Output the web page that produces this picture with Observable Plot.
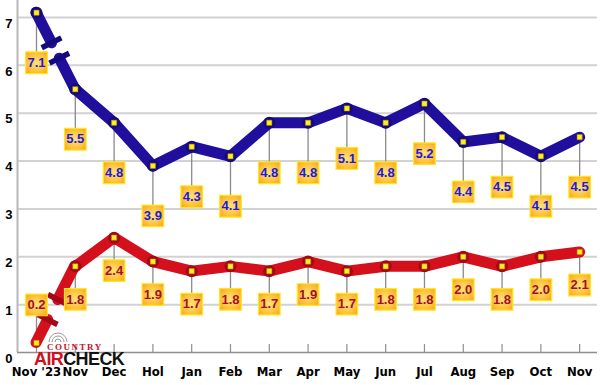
<!DOCTYPE html>
<html>
<head>
<meta charset="utf-8">
<script src="https://cdn.jsdelivr.net/npm/d3@7"></script>
<script src="https://cdn.jsdelivr.net/npm/@observablehq/plot@0.6"></script>
<style>
  html, body { margin: 0; padding: 0; background: #fff; }
  #wrap { position: relative; width: 600px; height: 385px; overflow: hidden; }
  #logo { position: absolute; left: 33px; top: 332px; width: 100px; height: 40px; pointer-events: none; }
  #logo .country { position: absolute; left: 14px; top: 9.5px; line-height: 1; white-space: nowrap; font: bold 9px "Liberation Serif", "DejaVu Serif", serif; color: #c8102e; letter-spacing: 1.5px; }
  #logo .air { position: absolute; left: 1px; top: 16.5px; line-height: 1; white-space: nowrap; font: bold 18px "Liberation Sans", Arial, sans-serif; letter-spacing: -0.6px; color: #111; }
  #logo .air span { color: #d01020; }
</style>
</head>
<body>
<div id="wrap"></div>
<script>
const months = ["Nov '23","Nov","Dec","Hol","Jan","Feb","Mar","Apr","May","Jun","Jul","Aug","Sep","Oct","Nov"];
const blueValues = [7.1,5.5,4.8,3.9,4.3,4.1,4.8,4.8,5.1,4.8,5.2,4.4,4.5,4.1,4.5];
const redValues  = [0.2,1.8,2.4,1.9,1.7,1.8,1.7,1.9,1.7,1.8,1.8,2.0,1.8,2.0,2.1];
const yTicks = [0,1,2,3,4,5,6,7];
const xTicks = months.map((_, i) => i);

const blueData = blueValues.map((v, i) => ({i, v, label: v.toFixed(1)}));
const redData = redValues.map((v, i) => ({i, v, label: v.toFixed(1)}));

const BLUE = "#1f0f9c", BLUE_DARK = "#140a7c", BLUE_TEXT = "#1a1ae0";
const RED = "#d3101c", RED_DARK = "#a30818", RED_TEXT = "#a0102c";
const LW = 11;

// first segment drawn with a break
function brokenSegment(data, color, dark, tA, tB) {
  return (index, scales) => {
    const sx = scales.x, sy = scales.y;
    const p0 = [sx(data[0].i), sy(data[0].v)];
    const p1 = [sx(data[1].i), sy(data[1].v)];
    const dx = p1[0] - p0[0], dy = p1[1] - p0[1];
    const L = Math.hypot(dx, dy);
    const u = [dx / L, dy / L], n = [-u[1], u[0]];
    const at = t => [p0[0] + dx * t, p0[1] + dy * t];
    const a = at(tA), b = at(tB);
    const g = d3.create("svg:g");
    g.append("line").attr("x1", p0[0]).attr("y1", p0[1]).attr("x2", a[0]).attr("y2", a[1])
      .attr("stroke", color).attr("stroke-width", LW).attr("stroke-linecap", "round");
    g.append("line").attr("x1", b[0]).attr("y1", b[1]).attr("x2", p1[0]).attr("y2", p1[1])
      .attr("stroke", color).attr("stroke-width", LW).attr("stroke-linecap", "round");
    for (const p of [a, b]) {
      g.append("line")
        .attr("x1", p[0] - n[0] * 11).attr("y1", p[1] - n[1] * 11)
        .attr("x2", p[0] + n[0] * 11).attr("y2", p[1] + n[1] * 11)
        .attr("stroke", dark).attr("stroke-width", 5.5);
    }
    return g.node();
  };
}

const boxOpts = {symbol: "square", r: 12.2, fill: "url(#boxGrad)", stroke: "#ffe81a", strokeWidth: 1.2};
const textOpts = {fontSize: 13, fontWeight: "bold", fontFamily: "'Liberation Sans', Arial, sans-serif"};

const plot = Plot.plot({
  width: 600,
  height: 385,
  marginLeft: 17,
  marginRight: 3,
  marginTop: 17,
  marginBottom: 33,
  x: {type: "linear", domain: [-0.49, 14.46], axis: null, label: null},
  y: {domain: [0, 7], axis: null, label: null},
  style: {fontFamily: "'DejaVu Sans Condensed', 'Liberation Sans Narrow', 'Arial Narrow', sans-serif", background: "#fff"},
  marks: [
    Plot.gridY(yTicks.filter(d => d > 0), {stroke: "#d2d2d2", strokeOpacity: 1, strokeWidth: 2}),
    Plot.ruleX([-0.49], {y1: 0, y2: 7.4, stroke: "#b8b8b8", strokeWidth: 2}),
    Plot.ruleY([0], {stroke: "#8f8f8f", strokeWidth: 1.5}),
    Plot.ruleX(xTicks, {y1: 0, y2: 0, insetTop: -8, stroke: "#8f8f8f", strokeWidth: 1.2}),
    Plot.axisX(xTicks, {tickFormat: i => months[i], tickSize: 0, tickPadding: 14, label: null,
      fontSize: 13, fontWeight: "bold", fill: "#000"}),
    Plot.axisY(yTicks, {tickSize: 0, tickPadding: 5, dy: 6, label: null, fontSize: 13, fontWeight: "bold", fill: "#000",
      fontFamily: "'Liberation Sans', Arial, sans-serif"}),

    // leader lines
    Plot.ruleX(blueData, {x: "i", y1: "v", y2: "v", insetBottom: -40, stroke: "#8a8a8a", strokeWidth: 1.3}),
    Plot.ruleX(redData, {filter: d => d.i > 0, x: "i", y1: "v", y2: "v", insetBottom: -23, stroke: "#8a8a8a", strokeWidth: 1.3}),
    Plot.ruleX(redData, {filter: d => d.i === 0, x: "i", y1: "v", y2: "v", insetTop: -28, stroke: "#8a8a8a", strokeWidth: 1.3}),

    // lines
    Plot.line(redData.slice(1), {x: "i", y: "v", stroke: RED, strokeWidth: LW, strokeLinecap: "round", strokeLinejoin: "round"}),
    brokenSegment(redData, RED, RED_DARK, 0.30, 0.56),
    Plot.dot(redData.slice(1, -1), {x: "i", y: "v", r: 6, fill: RED_DARK}),
    Plot.line(blueData.slice(1), {x: "i", y: "v", stroke: BLUE, strokeWidth: LW, strokeLinecap: "round", strokeLinejoin: "round"}),
    brokenSegment(blueData, BLUE, BLUE_DARK, 0.40, 0.60),
    Plot.dot(blueData.slice(0, -1), {x: "i", y: "v", r: 6, fill: BLUE_DARK}),

    // point markers
    Plot.dot(blueData, {x: "i", y: "v", symbol: "square", r: 2.9, fill: "#ffee22", stroke: "#b89a00", strokeWidth: 0.5}),
    Plot.dot(redData, {x: "i", y: "v", symbol: "square", r: 2.9, fill: "#ffee22", stroke: "#b89a00", strokeWidth: 0.5}),

    // label boxes
    Plot.dot(blueData, {x: "i", y: "v", dy: 50, ...boxOpts}),
    Plot.text(blueData, {x: "i", y: "v", dy: 50, text: "label", fill: BLUE_TEXT, ...textOpts}),
    Plot.dot(redData, {filter: d => d.i > 0, x: "i", y: "v", dy: 33, ...boxOpts}),
    Plot.text(redData, {filter: d => d.i > 0, x: "i", y: "v", dy: 33, text: "label", fill: RED_TEXT, ...textOpts}),
    Plot.dot(redData, {filter: d => d.i === 0, x: "i", y: "v", dy: -38, ...boxOpts}),
    Plot.text(redData, {filter: d => d.i === 0, x: "i", y: "v", dy: -38, text: "label", fill: RED_TEXT, ...textOpts})
  ]
});

// gradient for label boxes
const defs = d3.select(plot).insert("defs", ":first-child");
const rg = defs.append("radialGradient").attr("id", "boxGrad").attr("cx", "50%").attr("cy", "50%").attr("r", "70%");
rg.append("stop").attr("offset", "0%").attr("stop-color", "#ffe27a");
rg.append("stop").attr("offset", "60%").attr("stop-color", "#ffc23a");
rg.append("stop").attr("offset", "100%").attr("stop-color", "#f5a020");

const wrap = document.getElementById("wrap");
wrap.appendChild(plot);

const logo = document.createElement("div");
logo.id = "logo";
logo.innerHTML = `
  <svg width="40" height="14" style="position:absolute;left:11px;top:-1px">
    <path d="M11,11 a3,3 0 0 1 6,0" fill="none" stroke="#9a9a9a" stroke-width="1"/>
    <path d="M8,11 a6,6 0 0 1 12,0" fill="none" stroke="#9a9a9a" stroke-width="1"/>
    <path d="M5,11 a9,9 0 0 1 18,0" fill="none" stroke="#9a9a9a" stroke-width="1"/>
  </svg>
  <div class="country">COUNTRY</div>
  <div class="air"><span>AIR</span>CHECK</div>`;
wrap.appendChild(logo);
</script>
</body>
</html>
